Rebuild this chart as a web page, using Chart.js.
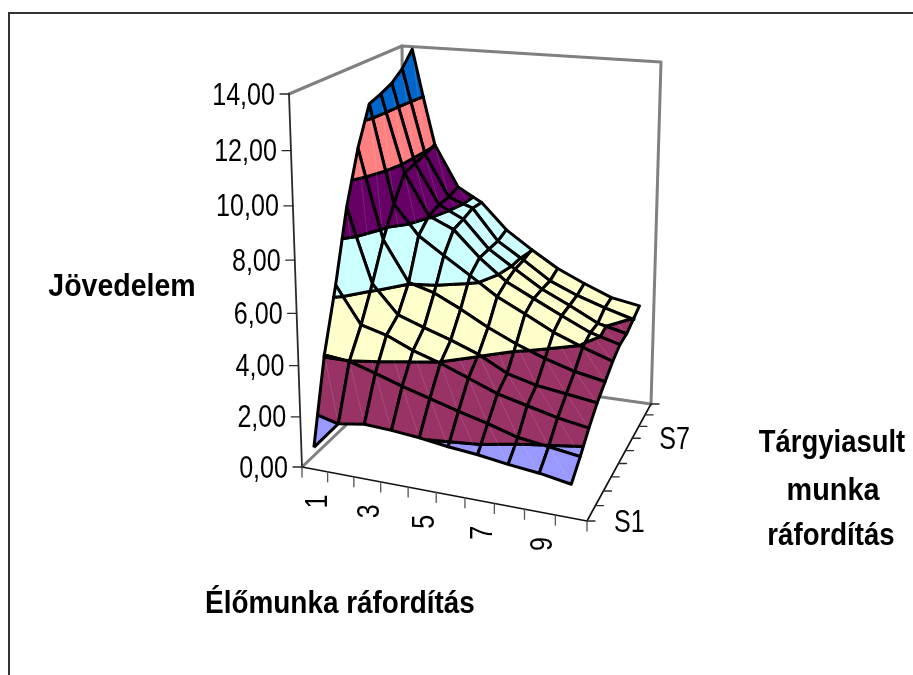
<!DOCTYPE html>
<html><head><meta charset="utf-8">
<style>html,body{margin:0;padding:0;background:#fff}canvas{display:block}</style>
<script src="https://cdn.jsdelivr.net/npm/chart.js@4/dist/chart.umd.js"></script>
</head><body><canvas id="c" width="913" height="675"></canvas>
<script>
const categories=['1','2','3','4','5','6','7','8','9','10'];
const seriesNames=['S1','S2','S3','S4','S5','S6','S7','S8','S9','S10'];
const S1=[0.88,2.0,2.17,2.12,2.03,1.88,1.78,1.62,1.5,1.3];
const S2=[4.07,3.98,3.68,3.35,3.05,2.74,2.46,2.12,1.97,1.8];
const S3=[6.41,4.99,4.74,4.3,3.97,3.56,3.13,2.85,2.57,2.37];
const S4=[9.09,6.23,5.14,4.79,4.45,4.05,3.46,3.17,3.01,2.85];
const S5=[11.08,7.62,6.05,5.77,5.27,4.69,4.19,3.77,3.43,3.2];
const S6=[12.54,8.73,7.57,6.9,6.23,5.52,4.97,4.39,3.95,3.55];
const S7=[12.71,9.67,8.05,7.61,6.59,5.75,5.2,4.65,4.11,3.78];
const S8=[12.92,9.78,8.2,7.71,6.6,5.9,5.2,4.67,4.08,3.8];
const S9=[13.3,9.9,8.22,7.86,6.6,5.92,5.18,4.7,4.32,3.98];
const S10=[13.9,10.05,8.36,7.8,6.75,6.02,5.34,4.83,4.36,4.15];
const valueTicks=[0,2,4,6,8,10,12,14];
const valueLabels=['0,00','2,00','4,00','6,00','8,00','10,00','12,00','14,00'];
const bandColors=['#9999FF','#993366','#FFFFCC','#CCFFFF','#660066','#FF8080','#0066CC'];
const rows=[S1,S2,S3,S4,S5,S6,S7,S8,S9,S10];

// Oblique view of the 3D box: floor and top corners in scale units.
function homography(q){
  const [p0,p1,p2,p3]=q;
  const dx1=p1[0]-p2[0],dx2=p3[0]-p2[0],sx=p0[0]-p1[0]+p2[0]-p3[0];
  const dy1=p1[1]-p2[1],dy2=p3[1]-p2[1],sy=p0[1]-p1[1]+p2[1]-p3[1];
  const den=dx1*dy2-dx2*dy1;
  const g=(sx*dy2-dx2*sy)/den,h=(dx1*sy-sx*dy1)/den;
  const a=p1[0]-p0[0]+g*p1[0],b=p3[0]-p0[0]+h*p3[0];
  const d=p1[1]-p0[1]+g*p1[1],e=p3[1]-p0[1]+h*p3[1];
  return (u,v)=>{const w=g*u+h*v+1;return [(a*u+b*v+p0[0])/w,(d*u+e*v+p0[1])/w];};
}
const floorH=homography([[302,467],[587,521],[651,404],[404.6,369.3]]);
const topH=homography([[289,94],[594,134],[661,62],[402,46]]);
const zMax=14,persp=0.067;
function project(u,v,z){
  const s=z/zMax,t=s*(1-persp)/(1-persp*s);
  const f=floorH(u,v),c=topH(u,v);
  return {x:f[0]+(c[0]-f[0])*t,y:f[1]+(c[1]-f[1])*t};
}
const uOf=i=>(i+0.5)/categories.length;
const vOf=k=>k/(seriesNames.length-1);

function clip(poly,level,keepAbove){
  const out=[];
  for(let n=0;n<poly.length;n++){
    const a=poly[n],b=poly[(n+1)%poly.length];
    const ia=keepAbove?a.z>=level:a.z<=level;
    const ib=keepAbove?b.z>=level:b.z<=level;
    if(ia)out.push(a);
    if(ia!==ib){const f=(level-a.z)/(b.z-a.z);
      out.push({u:a.u+(b.u-a.u)*f,v:a.v+(b.v-a.v)*f,z:level});}
  }
  return out;
}
const datasets=[];
function addLine(pts,color,width){
  datasets.push({data:pts,showLine:true,pointRadius:0,borderColor:color,borderWidth:width,fill:false,
    borderCapStyle:'round',borderJoinStyle:'round',tension:0,clip:false});
}
const P=project;
// Walls
const gray='#808080',dark='#2a2a2a';
addLine([P(0,0,0),P(0,1,0),P(1,1,0)],gray,3);
addLine([P(0,0,zMax),P(0,1,zMax),P(1,1,zMax),P(1,1,0)],gray,3);
addLine([P(0,1,0),P(0,1,zMax)],gray,3);
// Axes
addLine([P(0,0,0),P(0,0,zMax)],dark,1.8);
addLine([P(0,0,0),P(1,0,0),P(1,1,0)],'#111',1.6);
valueTicks.forEach(z=>{const p=P(0,0,z);addLine([{x:p.x-9,y:p.y},p],dark,1.3);});
for(let j=0;j<=categories.length;j++){const p=P(j/categories.length,0,0);addLine([p,{x:p.x,y:p.y+10}],'#555',1.3);}
seriesNames.forEach((n,k)=>{const p=P(1,vOf(k),0);addLine([p,{x:p.x+8,y:p.y}],dark,1.3);});
// Surface, far cells first
for(let k=rows.length-2;k>=0;k--){
  for(let i=0;i<categories.length-1;i++){
    const quad=[{u:uOf(i),v:vOf(k),z:rows[k][i]},{u:uOf(i+1),v:vOf(k),z:rows[k][i+1]},
                {u:uOf(i+1),v:vOf(k+1),z:rows[k+1][i+1]},{u:uOf(i),v:vOf(k+1),z:rows[k+1][i]}];
    bandColors.forEach((col,b)=>{
      let poly=clip(quad,b*2,true);
      if(poly.length)poly=clip(poly,(b+1)*2,false);
      if(poly.length<3)return;
      const pts=poly.map(q=>P(q.u,q.v,q.z));pts.push(pts[0]);
      datasets.push({data:pts,showLine:true,pointRadius:0,fill:'shape',backgroundColor:col,
        borderColor:'#000',borderWidth:3,borderJoinStyle:'round',tension:0,clip:false});
    });
    // faint seam between the two triangles of the cell
    const a=P(quad[3].u,quad[3].v,quad[3].z),c=P(quad[1].u,quad[1].v,quad[1].z);
    const m=0.12,s1={x:a.x+(c.x-a.x)*m,y:a.y+(c.y-a.y)*m},s2={x:c.x+(a.x-c.x)*m,y:c.y+(a.y-c.y)*m};
    addLine([s1,s2],'rgba(255,255,255,0.16)',0.8);
  }
}
datasets.reverse(); // Chart.js paints the last dataset first

function txt(ctx,s,x,y,o){
  ctx.save();ctx.translate(x,y);
  if(o.rot)ctx.rotate(o.rot);
  ctx.scale(o.sx,1);
  ctx.font=(o.bold?'bold ':'')+o.size+'px "Liberation Sans"';
  ctx.textAlign=o.align||'left';ctx.textBaseline='alphabetic';ctx.fillStyle='#000';
  ctx.fillText(s,0,0);ctx.restore();
}
const labels={id:'labels',afterDraw(chart){
  const ctx=chart.ctx,X=chart.scales.x,Y=chart.scales.y;
  const px=p=>[X.getPixelForValue(p.x),Y.getPixelForValue(p.y)];
  // frame
  ctx.save();ctx.strokeStyle='#333';ctx.lineWidth=2;ctx.beginPath();
  ctx.moveTo(X.getPixelForValue(9),Y.getPixelForValue(675));
  ctx.lineTo(X.getPixelForValue(9),Y.getPixelForValue(13));
  ctx.lineTo(X.getPixelForValue(913),Y.getPixelForValue(13));ctx.stroke();ctx.restore();
  const num={size:31,sx:0.81,bold:false};
  valueTicks.forEach((z,n)=>{const [x,y]=px(P(0,0,z));
    txt(ctx,valueLabels[n],x-14,y+10.5,{...num,align:'right'});});
  categories.forEach((c,i)=>{ if(i%2)return;
    const [x,y]=px(P(uOf(i),0,0));
    txt(ctx,c,x+12,y+32,{...num,rot:-Math.PI/2,align:'center'});});
  [0,6].forEach(k=>{const [x,y]=px(P(1,vOf(k),0));
    txt(ctx,seriesNames[k],x+27,y+10.5,num);});
  const bold={size:31,sx:0.92,bold:true,align:'center'};
  txt(ctx,'Jövedelem',122,296,bold);
  txt(ctx,'Élőmunka ráfordítás',340,613,{...bold,sx:0.90});
  txt(ctx,'Tárgyiasult',832,452,{...bold,sx:0.885});
  txt(ctx,'munka',833,500,{...bold,sx:0.93});
  txt(ctx,'ráfordítás',831,545,{...bold,sx:0.89});
}};
new Chart(document.getElementById('c'),{
  type:'scatter',
  data:{datasets},
  plugins:[labels],
  options:{responsive:false,animation:false,events:[],
    layout:{padding:0},
    plugins:{legend:{display:false},title:{display:false},tooltip:{enabled:false}},
    scales:{x:{type:'linear',min:0,max:913,display:false},
            y:{type:'linear',min:0,max:675,reverse:true,display:false}}}
});
</script></body></html>
